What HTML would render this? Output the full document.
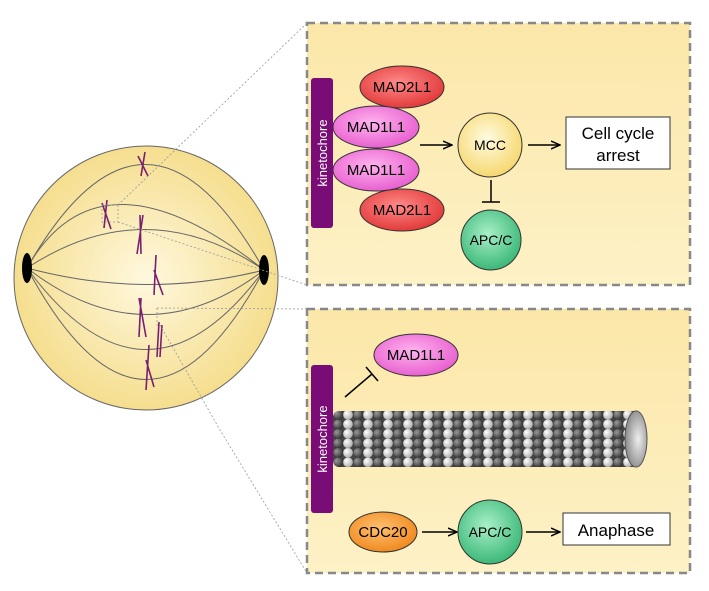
<!DOCTYPE html>
<html><head><meta charset="utf-8"><style>
body{margin:0;background:#fff}
svg{display:block}
text{font-family:"Liberation Sans",Arial,sans-serif}
</style></head><body>
<svg width="709" height="591" viewBox="0 0 709 591" xmlns="http://www.w3.org/2000/svg">
<defs>
<radialGradient id="cell" cx="0.5" cy="0.5" r="0.5">
<stop offset="0" stop-color="#fff8de"/><stop offset="1" stop-color="#f5de8e"/></radialGradient>
<linearGradient id="panel" x1="0" y1="0" x2="0" y2="1">
<stop offset="0" stop-color="#fbe7a8"/><stop offset="1" stop-color="#fdf1c6"/></linearGradient>
<radialGradient id="red" cx="0.45" cy="0.4" r="0.6"><stop offset="0" stop-color="#ff8a8a"/><stop offset="1" stop-color="#e23a3a"/></radialGradient>
<radialGradient id="pink" cx="0.45" cy="0.4" r="0.6"><stop offset="0" stop-color="#ffb3ee"/><stop offset="1" stop-color="#e860d0"/></radialGradient>
<radialGradient id="yel" cx="0.45" cy="0.4" r="0.6"><stop offset="0" stop-color="#fffbe0"/><stop offset="1" stop-color="#f6d870"/></radialGradient>
<radialGradient id="grn" cx="0.45" cy="0.4" r="0.6"><stop offset="0" stop-color="#a8f0c8"/><stop offset="1" stop-color="#3cb878"/></radialGradient>
<radialGradient id="org" cx="0.45" cy="0.4" r="0.6"><stop offset="0" stop-color="#ffc070"/><stop offset="1" stop-color="#f08a20"/></radialGradient>
<radialGradient id="dk" cx="0.35" cy="0.35" r="0.7"><stop offset="0" stop-color="#999"/><stop offset="1" stop-color="#333"/></radialGradient>
<radialGradient id="lt" cx="0.35" cy="0.35" r="0.7"><stop offset="0" stop-color="#fff"/><stop offset="1" stop-color="#aaa"/></radialGradient>
<radialGradient id="cap" cx="0.6" cy="0.5" r="0.6"><stop offset="0" stop-color="#eee"/><stop offset="1" stop-color="#888"/></radialGradient>
<pattern id="mt" x="333" y="410" width="20" height="9.5" patternUnits="userSpaceOnUse">
<rect width="20" height="9.5" fill="#444"/>
<circle cx="5" cy="4.75" r="5" fill="url(#dk)" stroke="#222" stroke-width="0.4"/>
<circle cx="15" cy="4.75" r="5" fill="url(#lt)" stroke="#555" stroke-width="0.4"/>
</pattern>
<marker id="ar" markerWidth="10" markerHeight="10" refX="9" refY="5" orient="auto" markerUnits="userSpaceOnUse">
<path d="M0,1 L9,5 L0,9" fill="none" stroke="#000" stroke-width="1.5"/></marker>
</defs>

<rect x="307" y="23" width="383" height="262" fill="url(#panel)" stroke="#888" stroke-width="2.5" stroke-dasharray="8,5"/>
<rect x="307" y="309" width="383" height="264" fill="url(#panel)" stroke="#888" stroke-width="2.5" stroke-dasharray="8,5"/>

<circle cx="146" cy="278" r="132" fill="url(#cell)" stroke="#666" stroke-width="1"/>
<g fill="none" stroke="#666" stroke-width="1">
<path d="M27,268 Q146,60 264,270"/>
<path d="M27,268 Q100,140 264,270"/>
<path d="M27,268 Q146,190 264,270"/>
<path d="M27,268 Q146,300 264,270"/>
<path d="M27,268 Q146,360 264,270"/>
<path d="M27,268 Q146,430 264,270"/>
<path d="M27,268 Q146,490 264,270"/>
</g>
<ellipse cx="27" cy="268" rx="5" ry="15" fill="#000"/>
<ellipse cx="264" cy="270" rx="5" ry="15" fill="#000"/>
<g fill="none" stroke="#7a1f6e" stroke-width="1.6">
<path d="M145,152 L141,176 M138,156 L148,176"/>
<path d="M107,200 L104,228 M102,203 L111,229"/>
<path d="M140,215 L141,254 M143,215 L137,254"/>
<path d="M156,255 L154,295 M154,270 L163,295"/>
<path d="M141,298 L139,337 M139,298 L146,337"/>
<path d="M159,322 L157,357 M162,325 L160,357"/>
<path d="M149,345 L146,390 M146,360 L154,387"/>
</g>
<g fill="none" stroke="#999" stroke-width="0.8" stroke-dasharray="2,2">
<rect x="102" y="205" width="16" height="17"/>
<path d="M118,205 L307,23"/>
<path d="M118,222 L307,285"/>
<path d="M157,308 L307,309"/>
<path d="M157,308 L157,325 L160,325 L220,430 L307,573"/>
</g>

<rect x="311" y="78" width="22" height="150" rx="3" fill="#7a0c78"/>
<text x="0" y="0" transform="translate(327,153) rotate(-90)" text-anchor="middle" font-size="13" fill="#fff">kinetochore</text>
<ellipse cx="402" cy="87" rx="42" ry="21" fill="url(#red)" stroke="#333"/>
<ellipse cx="402" cy="210" rx="42" ry="21" fill="url(#red)" stroke="#333"/>
<ellipse cx="376" cy="127" rx="43" ry="21" fill="url(#pink)" stroke="#333"/>
<ellipse cx="376" cy="170" rx="43" ry="21" fill="url(#pink)" stroke="#333"/>
<g font-size="15" text-anchor="middle" fill="#000">
<text x="402" y="92">MAD2L1</text>
<text x="402" y="215">MAD2L1</text>
<text x="376" y="132">MAD1L1</text>
<text x="376" y="175">MAD1L1</text>
</g>
<line x1="420" y1="145" x2="452" y2="145" stroke="#000" stroke-width="1.5" marker-end="url(#ar)"/>
<circle cx="490" cy="145" r="32" fill="url(#yel)" stroke="#333"/>
<text x="490" y="150" font-size="14" text-anchor="middle">MCC</text>
<line x1="528" y1="145" x2="560" y2="145" stroke="#000" stroke-width="1.5" marker-end="url(#ar)"/>
<rect x="566" y="117" width="104" height="52" fill="#fff" stroke="#333"/>
<text x="618" y="139" font-size="17" text-anchor="middle">Cell cycle</text>
<text x="618" y="161" font-size="17" text-anchor="middle">arrest</text>
<line x1="491" y1="180" x2="491" y2="202" stroke="#000" stroke-width="1.5"/>
<line x1="482" y1="202" x2="500" y2="202" stroke="#000" stroke-width="1.5"/>
<circle cx="491" cy="240" r="30" fill="url(#grn)" stroke="#333"/>
<text x="491" y="245" font-size="14" text-anchor="middle">APC/C</text>

<rect x="311" y="365" width="22" height="148" rx="3" fill="#7a0c78"/>
<text x="0" y="0" transform="translate(327,439) rotate(-90)" text-anchor="middle" font-size="13" fill="#fff">kinetochore</text>
<ellipse cx="416" cy="355" rx="42" ry="21" fill="url(#pink)" stroke="#333"/>
<text x="416" y="360" font-size="15" text-anchor="middle">MAD1L1</text>
<line x1="345" y1="397" x2="372" y2="374" stroke="#000" stroke-width="1.5"/>
<line x1="366" y1="367" x2="378" y2="381" stroke="#000" stroke-width="1.5"/>
<rect x="333" y="411" width="307" height="56" rx="6" fill="url(#mt)"/>
<ellipse cx="636" cy="439" rx="11" ry="28" fill="url(#cap)" stroke="#555"/>
<ellipse cx="383" cy="532" rx="34" ry="20" fill="url(#org)" stroke="#333"/>
<text x="383" y="537" font-size="15" text-anchor="middle">CDC20</text>
<line x1="422" y1="532" x2="457" y2="532" stroke="#000" stroke-width="1.5" marker-end="url(#ar)"/>
<circle cx="490" cy="532" r="32" fill="url(#grn)" stroke="#333"/>
<text x="490" y="537" font-size="14" text-anchor="middle">APC/C</text>
<line x1="526" y1="532" x2="560" y2="532" stroke="#000" stroke-width="1.5" marker-end="url(#ar)"/>
<rect x="563" y="513" width="107" height="32" fill="#fff" stroke="#333"/>
<text x="616" y="536" font-size="17" text-anchor="middle">Anaphase</text>
</svg>
</body></html>
